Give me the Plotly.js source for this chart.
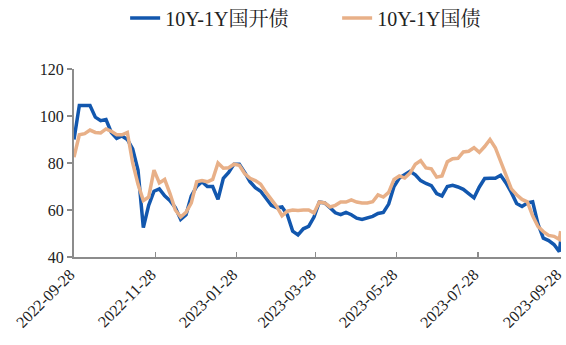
<!DOCTYPE html>
<html>
<head>
<meta charset="utf-8">
<script src="https://cdn.plot.ly/plotly-3.0.1.min.js"></script>
<style>
html,body{margin:0;padding:0;background:#fff;}
#chart{width:566px;height:345px;}
</style>
</head>
<body>
<div id="chart"></div>
<script>
const dates = [
"2022-09-28","2022-10-02","2022-10-06","2022-10-10","2022-10-14","2022-10-18","2022-10-22","2022-10-26","2022-10-30",
"2022-11-03","2022-11-07","2022-11-11","2022-11-15","2022-11-19","2022-11-23","2022-11-27",
"2022-12-01","2022-12-05","2022-12-09","2022-12-13","2022-12-17","2022-12-21","2022-12-25","2022-12-29",
"2023-01-02","2023-01-06","2023-01-10","2023-01-14","2023-01-18","2023-01-22","2023-01-26","2023-01-30",
"2023-02-03","2023-02-07","2023-02-11","2023-02-15","2023-02-19","2023-02-23","2023-02-27",
"2023-03-03","2023-03-07","2023-03-11","2023-03-15","2023-03-19","2023-03-23","2023-03-27","2023-03-31",
"2023-04-04","2023-04-08","2023-04-12","2023-04-16","2023-04-20","2023-04-24","2023-04-28",
"2023-05-02","2023-05-06","2023-05-10","2023-05-14","2023-05-18","2023-05-22","2023-05-26","2023-05-30",
"2023-06-03","2023-06-07","2023-06-11","2023-06-15","2023-06-19","2023-06-23","2023-06-27",
"2023-07-01","2023-07-05","2023-07-09","2023-07-13","2023-07-17","2023-07-21","2023-07-25","2023-07-29",
"2023-08-02","2023-08-06","2023-08-10","2023-08-14","2023-08-18","2023-08-22","2023-08-26","2023-08-30",
"2023-09-03","2023-09-07","2023-09-11","2023-09-15","2023-09-19","2023-09-23","2023-09-27","2023-09-28"
];

// 10Y-1Y 国开债 spread (bp)
const cdbSpread = [
90,104.5,104.5,104.5,99.5,98,98.5,93,90.5,
91.5,90,86,77,52.5,62,68,
69,66,64,61,56,58,66,70,
72,70,70,64.5,73.5,76,79.5,79.5,
76,72,69.5,68,65,62,61,
61.3,58,51,49.4,52,53,57,63.4,
63,61,58.8,58,59,58,56.5,
56,56.8,57.3,58.5,59,62.5,70,73.6,
75,76.5,75,72.5,71.3,70.4,67,
66,70,70.5,69.8,68.8,67,65.2,69.8,
73.4,73.5,73.5,74.8,71.5,67.5,62.8,61.5,
63,63.5,54,48,47,45.3,42.3,47
];

// 10Y-1Y 国债 spread (bp)
const govSpread = [
82.5,92,92.5,94,93,92.8,94.5,93.5,92,
92,93,80,71,64,65.5,77,
71.5,73,67,60,57,59,63,72,
72.5,72,73,80,77.8,78,79.5,79,
75.5,73.5,72.5,71,67.5,64.5,61.5,
57.5,59.5,60,59.8,60,60,58.7,63.4,
63,61.3,62,63.4,63.4,64.3,63.4,
63,63,63.5,66.4,65.5,67.5,73,74.5,
73.6,75.7,79.5,81,77.9,77.5,74,
74.5,80.5,81.8,82,84.7,85,86.5,84.5,
87,90,86.5,80.5,74,69,66.5,64.5,
63.5,57.5,53,50.8,49.2,48.8,47.5,51
];

const tickDates = ["2022-09-28","2022-11-28","2023-01-28","2023-03-28","2023-05-28","2023-07-28","2023-09-28"];
const seriesNames = ["10Y-1Y国开债","10Y-1Y国债"];
const seriesColors = ["#1257AE","#E8B088"];

const fontFam = "Liberation Serif, 'Times New Roman', 'Noto Serif CJK SC', 'Noto Sans CJK SC', serif";

const traces = [
  {x: dates, y: cdbSpread, name: seriesNames[0], type: "scatter", mode: "lines",
   line: {color: seriesColors[0], width: 3.5}},
  {x: dates, y: govSpread, name: seriesNames[1], type: "scatter", mode: "lines",
   line: {color: seriesColors[1], width: 3.5}}
];

const layout = {
  width: 566, height: 345,
  margin: {l: 74, r: 5, t: 69, b: 88},
  paper_bgcolor: "#fff", plot_bgcolor: "#fff",
  font: {family: fontFam, size: 16, color: "#222"},
  showlegend: true,
  legend: {orientation: "h", x: 0.105, xanchor: "left", yref: "container", y: 0.948, yanchor: "middle",
           font: {family: fontFam, size: 20, color: "#222"}, entrywidth: 167, entrywidthmode: "pixels"},
  xaxis: {
    type: "date",
    range: ["2022-09-28", "2023-09-28 06:00"],
    tickmode: "array", tickvals: tickDates, ticktext: tickDates,
    tickangle: -45, ticks: "inside", ticklen: 5, tickcolor: "#8c8c8c", tickwidth: 1.5,
    ticklabeloverflow: "allow", ticklabelshift: -4,
    showline: true, linecolor: "#8c8c8c", linewidth: 2,
    showgrid: false, zeroline: false,
    tickfont: {family: fontFam, size: 16, color: "#222"}
  },
  yaxis: {
    range: [40, 120], dtick: 20, tick0: 40,
    ticks: "outside", ticklen: 5, tickcolor: "#8c8c8c", tickwidth: 1.5,
    showline: true, linecolor: "#8c8c8c", linewidth: 2,
    showgrid: false, zeroline: false,
    tickfont: {family: fontFam, size: 16, color: "#222"}
  }
};

Plotly.newPlot("chart", traces, layout, {displayModeBar: false, staticPlot: true});
</script>
</body>
</html>
